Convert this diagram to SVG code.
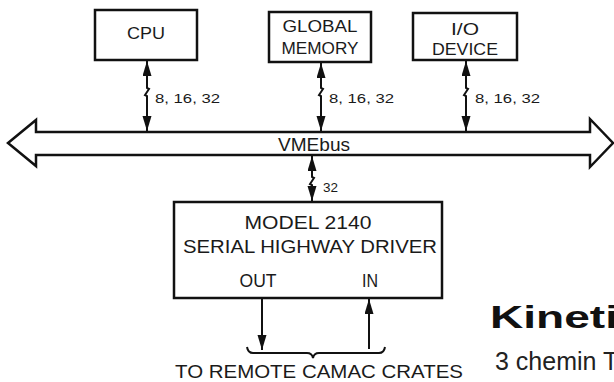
<svg xmlns="http://www.w3.org/2000/svg" width="614" height="382" viewBox="0 0 614 382">
<style>
.box{fill:#fff;stroke:#111;stroke-width:2.5}
.t{font-family:"Liberation Sans",Arial,sans-serif;fill:#1a1a1a;text-anchor:middle}
.lbl{font-family:"Liberation Sans",Arial,sans-serif;fill:#1a1a1a;font-size:12px}
.conn{fill:none;stroke:#111;stroke-width:2}
</style>
<defs>
<marker id="ah" markerUnits="userSpaceOnUse" markerWidth="15" markerHeight="10" refX="15" refY="4.5" orient="auto-start-reverse">
<path d="M0,0 L15,4.5 L0,9 z" fill="#111"/>
</marker>
</defs>
<rect width="614" height="382" fill="#fff"/>

<g id="bus">
<polygon class="box" points="8,143 36,120 36,132 590,132 590,119 613,143 590,167 590,155 36,155 36,166"/>
<text class="t" x="314" y="151" font-size="18" textLength="72" lengthAdjust="spacingAndGlyphs">VMEbus</text>
</g>

<g id="cpu">
<rect class="box" x="95" y="10" width="102" height="50"/>
<text class="t" x="146" y="39" font-size="17" textLength="38" lengthAdjust="spacingAndGlyphs">CPU</text>
</g>

<g id="global-memory">
<rect class="box" x="269" y="12" width="102" height="50"/>
<text class="t" x="320" y="32" font-size="17" textLength="75" lengthAdjust="spacingAndGlyphs">GLOBAL</text>
<text class="t" x="320" y="54" font-size="17" textLength="77" lengthAdjust="spacingAndGlyphs">MEMORY</text>
</g>

<g id="io-device">
<rect class="box" x="413" y="13" width="104" height="47"/>
<text class="t" x="465" y="35" font-size="17" textLength="28" lengthAdjust="spacingAndGlyphs">I/O</text>
<text class="t" x="465" y="55" font-size="17" textLength="66" lengthAdjust="spacingAndGlyphs">DEVICE</text>
</g>

<g id="serial-highway-driver">
<rect class="box" x="174" y="202" width="268" height="96"/>
<text class="t" x="308" y="229" font-size="18" textLength="127" lengthAdjust="spacingAndGlyphs">MODEL 2140</text>
<text class="t" x="310" y="253" font-size="18" textLength="254" lengthAdjust="spacingAndGlyphs">SERIAL HIGHWAY DRIVER</text>
<text class="t" x="258" y="287" font-size="18" textLength="37" lengthAdjust="spacingAndGlyphs">OUT</text>
<text class="t" x="370" y="287" font-size="18" textLength="16" lengthAdjust="spacingAndGlyphs">IN</text>
</g>

<g id="connectors">
<path class="conn" d="M147,61 V88 L149,89 L145,95 L147,96 V131" marker-start="url(#ah)" marker-end="url(#ah)"/>
<path class="conn" d="M321,63 V88 L323,89 L319,95 L321,96 V131" marker-start="url(#ah)" marker-end="url(#ah)"/>
<path class="conn" d="M466,61 V88 L468,89 L464,95 L466,96 V131" marker-start="url(#ah)" marker-end="url(#ah)"/>
<path class="conn" d="M312,156 V177 L314,178 L310,184 L312,185 V201" marker-start="url(#ah)" marker-end="url(#ah)"/>
<path class="conn" d="M262,299 V350" marker-end="url(#ah)"/>
<path class="conn" d="M369,349 V299" marker-end="url(#ah)"/>
<path class="conn" d="M247,347 Q248,353 253,353 H307 Q312,353 313,358 Q314,353 319,353 H379 Q384,353 385,347"/>
<text class="lbl" x="155" y="103" textLength="65" lengthAdjust="spacingAndGlyphs">8, 16, 32</text>
<text class="lbl" x="329" y="103" textLength="65" lengthAdjust="spacingAndGlyphs">8, 16, 32</text>
<text class="lbl" x="475" y="103" textLength="65" lengthAdjust="spacingAndGlyphs">8, 16, 32</text>
<text class="lbl" x="323" y="192" textLength="15" lengthAdjust="spacingAndGlyphs">32</text>
</g>

<text class="t" x="319" y="378" font-size="18" textLength="288" lengthAdjust="spacingAndGlyphs">TO REMOTE CAMAC CRATES</text>

<text x="490" y="328" font-family="'Liberation Sans',Arial,sans-serif" font-weight="bold" font-size="32" fill="#111" textLength="128" lengthAdjust="spacingAndGlyphs">Kineti</text>
<text x="495" y="370" font-family="'Liberation Sans',Arial,sans-serif" font-size="25" fill="#222">3 chemin T</text>
</svg>
